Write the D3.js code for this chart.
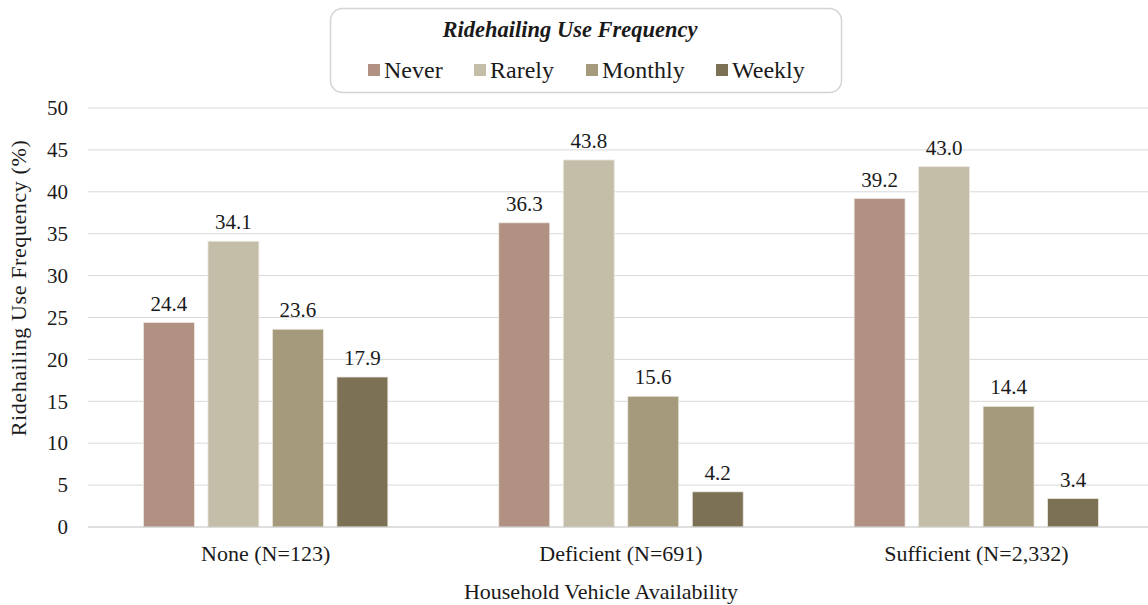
<!DOCTYPE html>
<html>

<head>
  <meta charset="UTF-8" />
  <title>Ridehailing Use Frequency</title>
  <style>
    body {
      margin: 0;
      background: white;
    }

    svg text {
      fill: #1a1a1a;
      font-family: "Liberation Serif", "Times New Roman", Times, "DejaVu Serif", serif !important;
    }
  </style>
  <script src="https://d3js.org/d3.v7.min.js"></script>
</head>

<body>
  <script>
    const groups = ["None (N=123)", "Deficient (N=691)", "Sufficient (N=2,332)"];
    const series = ["Never", "Rarely", "Monthly", "Weekly"];
    const never = [24.4, 36.3, 39.2];
    const rarely = [34.1, 43.8, 43.0];
    const monthly = [23.6, 15.6, 14.4];
    const weekly = [17.9, 4.2, 3.4];
    const yTicks = [0, 5, 10, 15, 20, 25, 30, 35, 40, 45, 50];
    const colors = ["#b09182", "#c4bea8", "#a59a7b", "#7c7055"];

    const values = [never, rarely, monthly, weekly];
    const W = 1148, H = 605;
    const plot = { left: 88, right: 1154, top: 108, bottom: 527 };

    const svg = d3.select("body")
      .append("svg")
      .attr("width", W)
      .attr("height", H);

    /* scales */
    const x0 = d3.scaleBand()
      .domain(groups)
      .range([plot.left, plot.right]);

    const x1 = d3.scaleBand()
      .domain(series)
      .range([0, x0.bandwidth()])
      .paddingInner(0.21)
      .paddingOuter(0.86);

    const y = d3.scaleLinear()
      .domain([0, 50])
      .range([plot.bottom, plot.top]);

    /* gridlines */
    svg.append("g")
      .selectAll("line")
      .data(yTicks.slice(1))
      .enter()
      .append("line")
      .attr("x1", plot.left)
      .attr("x2", W)
      .attr("y1", d => y(d))
      .attr("y2", d => y(d))
      .attr("stroke", "#d9d9d9")
      .attr("stroke-width", 1);

    /* y axis labels */
    const yAxis = svg.append("g")
      .attr("transform", `translate(${plot.left - 20},0)`)
      .call(d3.axisLeft(y).tickValues(yTicks).tickSize(0).tickPadding(0));
    yAxis.select(".domain").remove();
    yAxis.selectAll("text")
      .attr("font-size", 21)
      .attr("fill", "#1a1a1a");

    /* bars */
    const grp = svg.append("g")
      .selectAll("g")
      .data(groups)
      .enter()
      .append("g")
      .attr("transform", d => `translate(${x0(d)},0)`);

    const cells = grp.selectAll("g")
      .data((g, gi) => series.map((s, si) => ({ s: s, si: si, v: values[si][gi] })))
      .enter()
      .append("g");

    cells.append("rect")
      .attr("x", d => x1(d.s))
      .attr("width", x1.bandwidth())
      .attr("y", d => y(d.v))
      .attr("height", d => y(0) - y(d.v))
      .attr("fill", d => colors[d.si])
      .attr("stroke", "#ece8e0")
      .attr("stroke-width", 0.8);

    cells.append("text")
      .attr("x", d => x1(d.s) + x1.bandwidth() / 2)
      .attr("y", d => y(d.v) - 12)
      .attr("text-anchor", "middle")
      .attr("font-size", 21)
      .text(d => d.v.toFixed(1));

    /* baseline */
    svg.append("line")
      .attr("x1", plot.left)
      .attr("x2", W)
      .attr("y1", y(0))
      .attr("y2", y(0))
      .attr("stroke", "#bfbfbf")
      .attr("stroke-width", 1.2);

    /* x axis labels */
    const xAxis = svg.append("g")
      .attr("transform", `translate(0,${plot.bottom + 18})`)
      .call(d3.axisBottom(x0).tickSize(0).tickPadding(0));
    xAxis.select(".domain").remove();
    xAxis.selectAll("text")
      .attr("font-size", 22)
      .attr("fill", "#1a1a1a");

    /* axis titles */
    svg.append("text")
      .attr("x", 601)
      .attr("y", 599)
      .attr("text-anchor", "middle")
      .attr("font-size", 22)
      .text("Household Vehicle Availability");

    svg.append("text")
      .attr("transform", `translate(26,288) rotate(-90)`)
      .attr("text-anchor", "middle")
      .attr("font-size", 22)
      .attr("letter-spacing", 0.6)
      .text("Ridehailing Use Frequency (%)");

    /* legend */
    const legend = svg.append("g").attr("id", "legend");
    legend.append("rect")
      .attr("x", 330.5)
      .attr("y", 8.5)
      .attr("width", 511)
      .attr("height", 84)
      .attr("rx", 12)
      .attr("fill", "white")
      .attr("stroke", "#d4d4d4")
      .attr("stroke-width", 1.5);

    legend.append("text")
      .attr("x", 570)
      .attr("y", 37)
      .attr("text-anchor", "middle")
      .attr("font-size", 22.5)
      .attr("font-weight", "bold")
      .attr("font-style", "italic")
      .text("Ridehailing Use Frequency");

    const legX = [368, 474, 586, 716];
    const item = legend.selectAll(".legend-item")
      .data(series)
      .enter()
      .append("g")
      .attr("class", "legend-item")
      .attr("transform", (d, i) => `translate(${legX[i]},70)`);

    item.append("rect")
      .attr("x", 0)
      .attr("y", -6)
      .attr("width", 12)
      .attr("height", 12)
      .attr("fill", (d, i) => colors[i]);

    item.append("text")
      .attr("x", 16)
      .attr("y", 8)
      .attr("font-size", 24)
      .text(d => d);
  </script>
</body>

</html>
